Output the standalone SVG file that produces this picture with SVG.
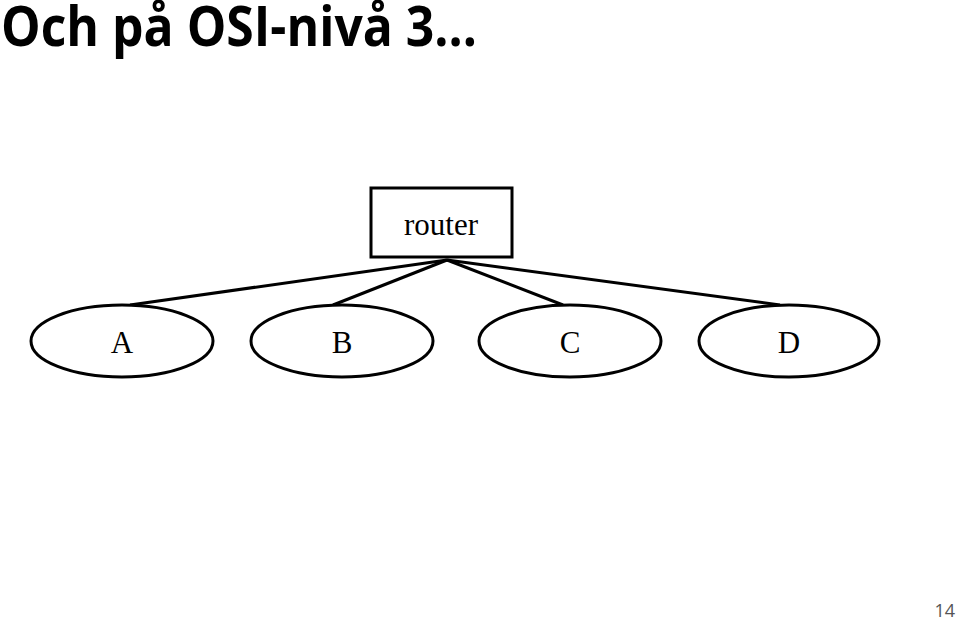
<svg xmlns="http://www.w3.org/2000/svg" width="960" height="620" viewBox="0 0 960 620">
<style>
.node{fill:#fff;stroke:#000;stroke-width:3}
.lbl{font-family:"Liberation Serif","Times New Roman",serif;font-size:31px;fill:#000;text-anchor:middle}
.edge{stroke:#000;stroke-width:3;fill:none}
</style>
<rect width="960" height="620" fill="#fff"/>
<text x="1" y="46" font-family="'Open Sans',sans-serif" font-weight="bold" font-size="55" fill="#000" textLength="476" lengthAdjust="spacingAndGlyphs">Och på OSI-nivå 3...</text>
<g id="edges">
<line class="edge" x1="447" y1="260" x2="130" y2="305"/>
<line class="edge" x1="447" y1="260" x2="333" y2="305"/>
<line class="edge" x1="447" y1="260" x2="563" y2="305"/>
<line class="edge" x1="447" y1="260" x2="780" y2="305"/>
</g>
<g id="router">
<rect class="node" x="371" y="188" width="141" height="69"/>
<text class="lbl" x="441" y="235">router</text>
</g>
<g id="A">
<ellipse class="node" cx="122" cy="341" rx="91" ry="36"/>
<text class="lbl" x="122" y="353">A</text>
</g>
<g id="B">
<ellipse class="node" cx="342" cy="341" rx="91" ry="36"/>
<text class="lbl" x="342" y="353">B</text>
</g>
<g id="C">
<ellipse class="node" cx="570" cy="341" rx="91" ry="36"/>
<text class="lbl" x="570" y="353">C</text>
</g>
<g id="D">
<ellipse class="node" cx="789" cy="341" rx="90" ry="36"/>
<text class="lbl" x="789" y="353">D</text>
</g>
<text x="955" y="617" font-family="'Open Sans',sans-serif" font-size="18" fill="#555" text-anchor="end">14</text>
</svg>
